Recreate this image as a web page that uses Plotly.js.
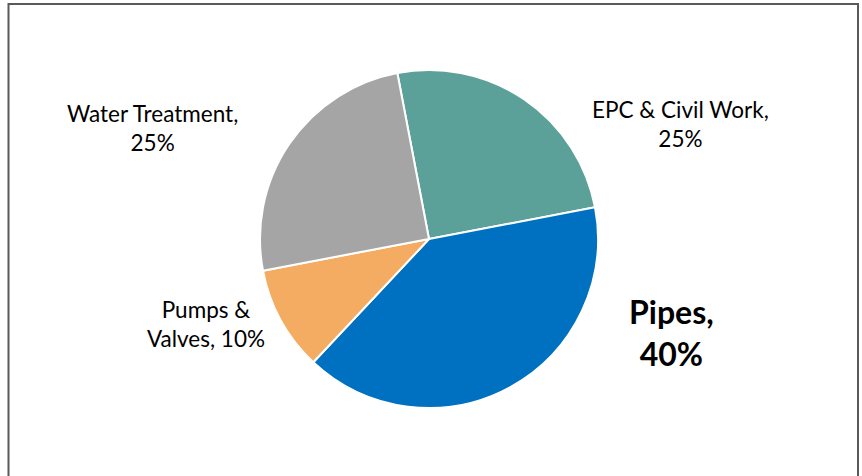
<!DOCTYPE html>
<html>
<head>
<meta charset="utf-8">
<script src="https://cdn.plot.ly/plotly-3.0.1.min.js"></script>
<style>html,body{margin:0;padding:0;background:#fff;}#chart{width:862px;height:476px;}</style>
</head>
<body>
<div id="chart"></div>
<script>
// Data
const categories = ['EPC & Civil Work', 'Pipes', 'Pumps & Valves', 'Water Treatment'];
const shares = [25, 40, 10, 25];
const sliceColors = ['#5BA099', '#0070C0', '#F4AC63', '#A5A5A5'];

const W = 862, H = 476;
const px = x => x / W;
const py = y => 1 - y / H;

// label text built from the data
function labelText(i) {
  const name = categories[i];
  const val = shares[i] + '%';
  if (name === 'Pumps & Valves') return 'Pumps &<br>Valves, ' + val;
  return name + ',<br>' + val;
}

// label placement (pixels) and style
const labelPos = [
  {x: 680, y: 124, size: 22.5, bold: false},
  {x: 671, y: 332, size: 32, bold: true},
  {x: 206, y: 324, size: 22.5, bold: false},
  {x: 152, y: 128, size: 22.5, bold: false}
];

const annotations = categories.map((c, i) => ({
  xref: 'paper', yref: 'paper',
  x: px(labelPos[i].x), y: py(labelPos[i].y),
  xanchor: 'center', yanchor: 'middle',
  showarrow: false,
  align: 'center',
  text: labelPos[i].bold ? '<b>' + labelText(i) + '</b>' : labelText(i),
  font: {family: 'Lato, "DejaVu Sans", sans-serif', size: labelPos[i].size, color: '#000'}
}));

const cx = 429, cy = 239, r = 169;
const trace = {
  type: 'pie',
  labels: categories,
  values: shares,
  sort: false,
  direction: 'clockwise',
  rotation: -10.8,
  textinfo: 'none',
  hoverinfo: 'label+percent',
  marker: {colors: sliceColors, line: {color: '#ffffff', width: 2}},
  domain: {x: [px(cx - r), px(cx + r)], y: [py(cy + r), py(cy - r)]}
};

const layout = {
  width: W, height: H,
  margin: {l: 0, r: 0, t: 0, b: 0},
  paper_bgcolor: '#ffffff',
  showlegend: false,
  annotations: annotations,
  shapes: [{
    type: 'rect', xref: 'paper', yref: 'paper',
    x0: px(8.5), x1: px(858), y0: -0.1, y1: py(4),
    line: {color: '#595959', width: 2}, fillcolor: 'rgba(0,0,0,0)'
  }]
};

Plotly.newPlot('chart', [trace], layout, {displayModeBar: false, staticPlot: true});
</script>
</body>
</html>
